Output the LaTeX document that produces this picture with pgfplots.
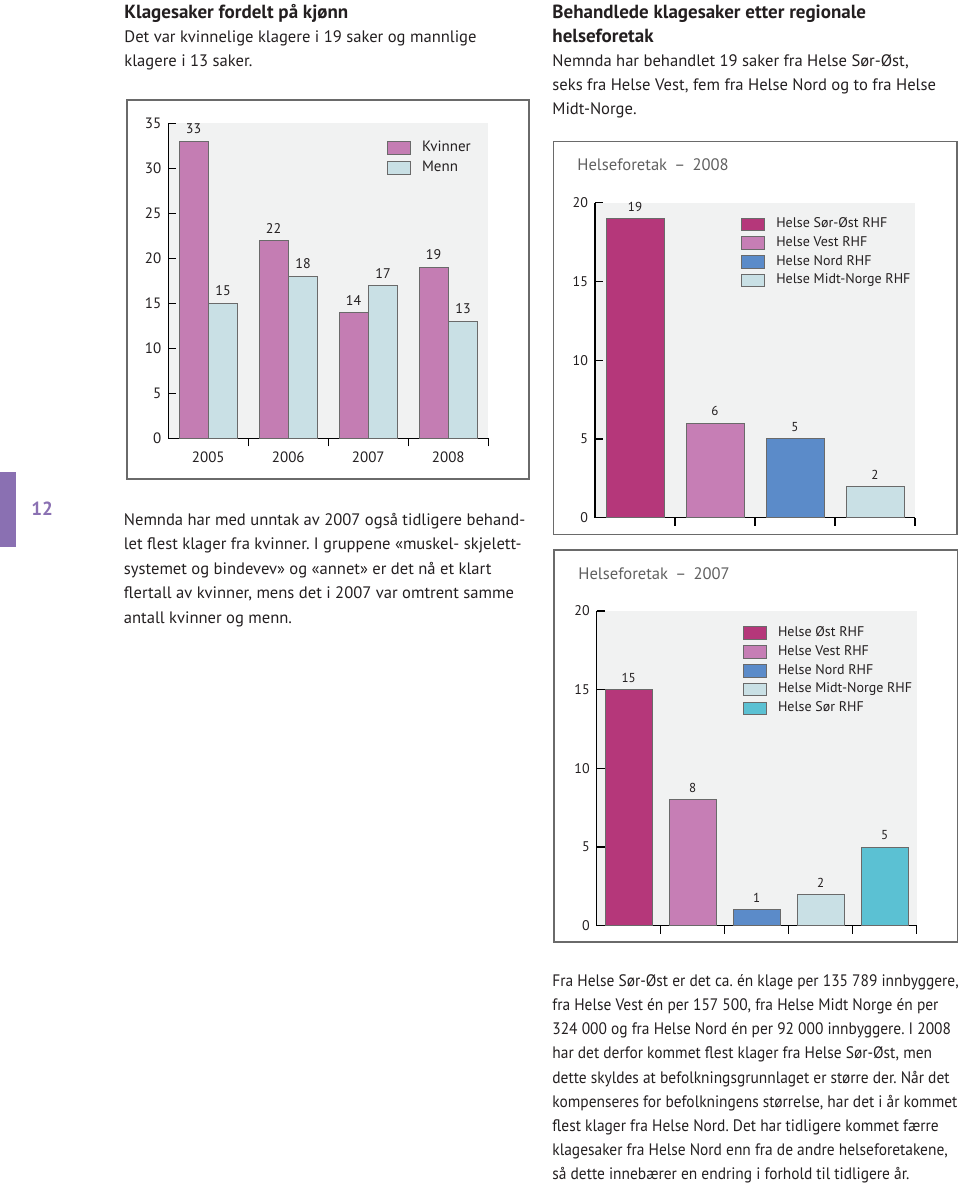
\documentclass[border=0pt]{standalone}
\usepackage{pgfplots}
\pgfplotsset{compat=1.18}
\usepackage{fontspec}
\setmainfont{PT Sans}
\newfontfamily\narrowfont{PT Sans}[FakeStretch=0.93]
\frenchspacing

\definecolor{kv}{HTML}{C47DB3}
\definecolor{me}{HTML}{C9E0E5}
\definecolor{so}{HTML}{B5377A}
\definecolor{ve}{HTML}{C67EB5}
\definecolor{no}{HTML}{5B8BC9}
\definecolor{mi}{HTML}{C9E0E5}
\definecolor{sr}{HTML}{5BC1D3}
\definecolor{panel}{HTML}{F1F2F2}
\definecolor{framec}{HTML}{6A6A6A}
\definecolor{txt}{HTML}{231F20}
\definecolor{purp}{HTML}{8A70B2}
\definecolor{ttl}{HTML}{606060}

\pgfplotsset{
  mybar/.style={
    scale only axis,
    axis x line*=bottom, axis y line*=left,
    axis line style={-, black, line width=0.7pt},
    axis background/.style={fill=panel},
    tick align=inside,
    major tick length=4pt,
    tick style={black, line width=0.7pt},
    ymin=0, xmin=0,
    enlargelimits=false,
    /pgf/number format/assume math mode=true,
    ybar,
    legend image code/.code={\draw[##1] (0pt,-3.2pt) rectangle (11.5pt,3.2pt);},
    legend style={draw=none, fill=none, inner sep=0pt, row sep=0pt, column sep=5.5pt,
      nodes={inner sep=0pt, text=txt}},
    legend cell align=left,
    nodes near coords,
  }
}

\begin{document}
\begin{tikzpicture}
\begin{scope}[x=0.5pt,y=-0.5pt]
\path[use as bounding box] (0,0) rectangle (960,1186);
% frames
\draw[framec, line width=0.8pt] (126.7,100) rectangle (529,479);
\draw[framec, line width=0.8pt] (553.3,141.7) rectangle (956.7,534.3);
\draw[framec, line width=0.8pt] (554,550) rectangle (957.3,941.7);
% page marker
\fill[purp] (0,471.7) rectangle (16,547);
\node[anchor=west, inner sep=0, text=purp, font=\fontsize{9.5}{10}\selectfont\bfseries] at (31,509) {12};
% titles of boxes
\node[anchor=west, inner sep=0, text=ttl, font=\fontsize{8.3}{10}\selectfont] at (577,165) {Helseforetak \,–\, 2008};
\node[anchor=west, inner sep=0, text=ttl, font=\fontsize{8.3}{10}\selectfont] at (578,574) {Helseforetak \,–\, 2007};
% text
\begin{scope}[every node/.style={anchor=base west, inner sep=0, text=txt, font=\fontsize{8.3}{12}\selectfont}]
\node[font=\fontsize{9.5}{12}\selectfont\bfseries] at (124,18.3) {Klagesaker fordelt på kjønn};
\node at (124,42.7) {Det var kvinnelige klagere i 19 saker og mannlige};
\node at (124,66.7) {klagere i 13 saker.};
\node[font=\fontsize{9.5}{12}\selectfont\bfseries] at (552,18.3) {Behandlede klagesaker etter regionale};
\node[font=\fontsize{9.5}{12}\selectfont\bfseries] at (552,42.7) {helseforetak};
\node at (552,66.7) {Nemnda har behandlet 19 saker fra Helse Sør-Øst,};
\node at (552,91) {seks fra Helse Vest, fem fra Helse Nord og to fra Helse};
\node at (552,115) {Midt-Norge.};
\node at (123.5,525) {Nemnda har med unntak av 2007 også tidligere behand-};
\node at (123.5,549.5) {let flest klager fra kvinner. I gruppene «muskel- skjelett-};
\node at (123.5,574) {systemet og bindevev» og «annet» er det nå et klart};
\node at (123.5,598.5) {flertall av kvinner, mens det i 2007 var omtrent samme};
\node at (123.5,623) {antall kvinner og menn.};
\end{scope}
\begin{scope}[every node/.style={anchor=base west, inner sep=0, text=txt, font=\narrowfont\fontsize{8.3}{12}\selectfont}]
\node at (552,986) {Fra Helse Sør-Øst er det ca. én klage per 135 789 innbyggere,};
\node at (552,1010) {fra Helse Vest én per 157 500, fra Helse Midt Norge én per};
\node at (552,1034) {324 000 og fra Helse Nord én per 92 000 innbyggere. I 2008};
\node at (552,1058.5) {har det derfor kommet flest klager fra Helse Sør-Øst, men};
\node at (552,1083) {dette skyldes at befolkningsgrunnlaget er større der. Når det};
\node at (552,1107) {kompenseres for befolkningens størrelse, har det i år kommet};
\node at (552,1131) {flest klager fra Helse Nord. Det har tidligere kommet færre};
\node at (552,1155) {klagesaker fra Helse Nord enn fra de andre helseforetakene,};
\node at (552,1179) {så dette innebærer en endring i forhold til tidligere år.};
\end{scope}
\end{scope}

% Chart 1
\begin{axis}[mybar,
  at={(84.15pt,-219.15pt)}, anchor=south west,
  width=160pt, height=157.5pt,
  xmax=4, ymax=35,
  ytick={0,5,...,35}, xtick={1,2,3,4}, xticklabels={,,,},
  yticklabel style={font=\fontsize{7.5}{8}\selectfont, text=txt},
  extra x ticks={0.5,1.5,2.5,3.5},
  extra x tick labels={2005,2006,2007,2008},
  extra x tick style={major tick length=0pt, xticklabel style={yshift=-3pt, font=\fontsize{7.5}{8}\selectfont, text=txt}},
  bar width=14.5pt,
  nodes near coords style={font=\fontsize{7}{8}\selectfont, text=txt},
  legend style={at={(0.6825,0.955)}, anchor=north west, font=\fontsize{7.5}{8}\selectfont, nodes={minimum height=10pt}},
]
\addplot[fill=kv, draw=framec, line width=0.5pt, bar shift=-7.4pt] coordinates {(0.5,33) (1.5,22) (2.5,14) (3.5,19)};
\addplot[fill=me, draw=framec, line width=0.5pt, bar shift=7.4pt] coordinates {(0.5,15) (1.5,18) (2.5,17) (3.5,13)};
\legend{Kvinner, Menn}
\end{axis}

% Chart 2 (2008)
\begin{axis}[mybar,
  at={(297.5pt,-258.85pt)}, anchor=south west,
  width=160pt, height=157.5pt,
  xmax=4, ymax=20,
  ytick={0,5,...,20}, xtick={1,2,3,4}, xticklabels={,,,},
  yticklabel style={font=\fontsize{7}{8}\selectfont, text=txt},
  bar width=29pt,
  nodes near coords style={font=\fontsize{6.5}{7}\selectfont, text=txt},
  legend style={at={(0.456,0.962)}, anchor=north west, font=\fontsize{7}{8}\selectfont, nodes={minimum height=9.35pt}},
]
\addplot[fill=so, draw=framec, line width=0.5pt, bar shift=0pt] coordinates {(0.5,19)};
\addplot[fill=ve, draw=framec, line width=0.5pt, bar shift=0pt] coordinates {(1.5,6)};
\addplot[fill=no, draw=framec, line width=0.5pt, bar shift=0pt] coordinates {(2.5,5)};
\addplot[fill=mi, draw=framec, line width=0.5pt, bar shift=0pt] coordinates {(3.5,2)};
\legend{Helse Sør-Øst RHF, Helse Vest RHF, Helse Nord RHF, Helse Midt-Norge RHF}
\end{axis}

% Chart 3 (2007)
\begin{axis}[mybar,
  at={(298.35pt,-462.85pt)}, anchor=south west,
  width=160pt, height=157.35pt,
  xmax=5, ymax=20,
  ytick={0,5,...,20}, xtick={1,2,3,4,5}, xticklabels={,,,,},
  yticklabel style={font=\fontsize{7}{8}\selectfont, text=txt},
  bar width=23.3pt,
  nodes near coords style={font=\fontsize{6.5}{7}\selectfont, text=txt},
  legend style={at={(0.456,0.962)}, anchor=north west, font=\fontsize{7}{8}\selectfont, nodes={minimum height=9.45pt}},
]
\addplot[fill=so, draw=framec, line width=0.5pt, bar shift=0pt] coordinates {(0.5,15)};
\addplot[fill=ve, draw=framec, line width=0.5pt, bar shift=0pt] coordinates {(1.5,8)};
\addplot[fill=no, draw=framec, line width=0.5pt, bar shift=0pt] coordinates {(2.5,1)};
\addplot[fill=mi, draw=framec, line width=0.5pt, bar shift=0pt] coordinates {(3.5,2)};
\addplot[fill=sr, draw=framec, line width=0.5pt, bar shift=0pt] coordinates {(4.5,5)};
\legend{Helse Øst RHF, Helse Vest RHF, Helse Nord RHF, Helse Midt-Norge RHF, Helse Sør RHF}
\end{axis}
\end{tikzpicture}
\end{document}
